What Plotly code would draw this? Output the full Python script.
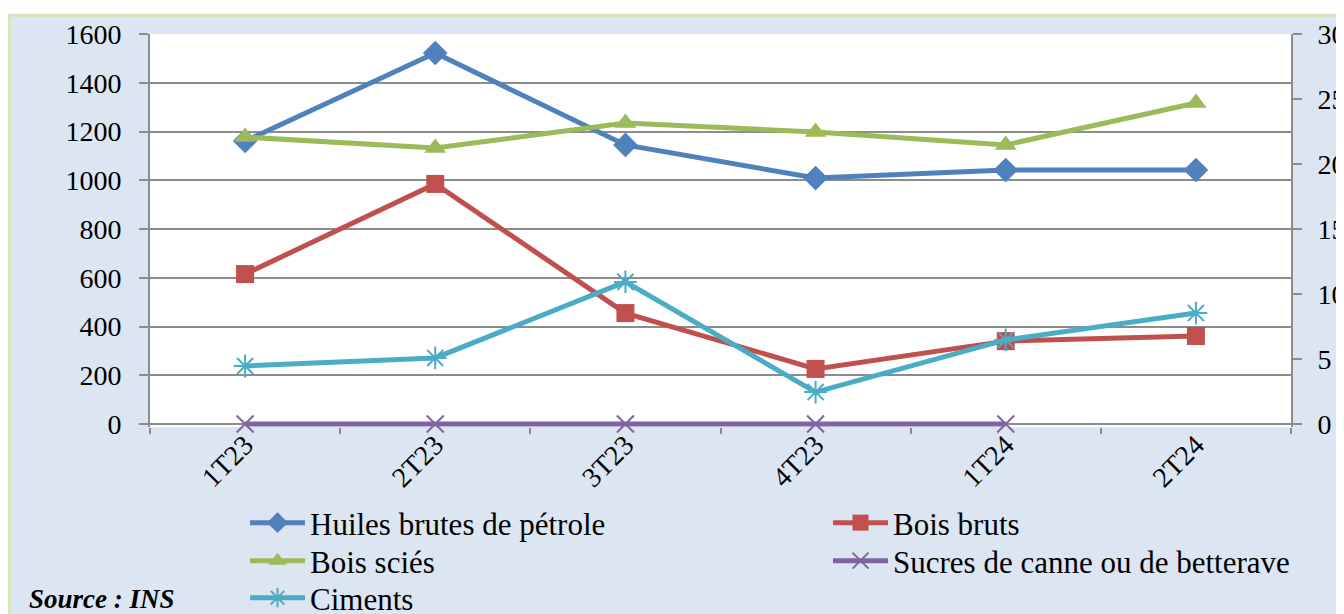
import plotly.graph_objects as go

categories = ["1T23", "2T23", "3T23", "4T23", "1T24", "2T24"]
huiles = [1161, 1522, 1145, 1009, 1042, 1042]
bois_bruts = [615, 985, 455, 226, 340, 361]
bois_scies = [1177, 1132, 1235, 1198, 1145, 1317]
sucres = [0, 0, 0, 0, 0, None]
ciments = [238, 271, 583, 131, 345, 455]

left_ticks = [0, 200, 400, 600, 800, 1000, 1200, 1400, 1600]
right_ticks = [0, 5, 10, 15, 20, 25, 30]
left_max, right_max = 1600, 30

# page has an 8px body margin; the figure starts at (8, 8) in the window
OFF = 8
W, H = 1344 - OFF, 614 - OFF
TOP_PX, ZERO_PX, BOTTOM_PX, RIGHT_PX = 34, 424, 427, 1291
L, T = 150 - OFF, TOP_PX - OFF
R = W - (RIGHT_PX - OFF)
B = H - (BOTTOM_PX - OFF)
PW, PH = W - L - R, H - T - B

# small pad below zero so the thick line lying on 0 is not clipped
pad_frac = (BOTTOM_PX - ZERO_PX) / (ZERO_PX - TOP_PX)
left_range = [-left_max * pad_frac, left_max]
right_range = [-right_max * pad_frac, right_max]

def px(x):  # window pixel -> paper
    return (x - OFF - L) / PW

def py(y):
    return (H - B - (y - OFF)) / PH

FONT = "Liberation Serif"
BG = "#dce6f2"
GRID = "#8c8c8c"

# legend slot positions (window px): left x of legend box, centre y of entry
legend_pos = {
    "legend": (245, 523),
    "legend2": (828, 523),
    "legend3": (245, 561),
    "legend4": (828, 561),
    "legend5": (245, 598),
}

series = [
    ("Huiles brutes de pétrole", huiles, "#4f81bd", dict(symbol="diamond", size=19), "legend", "y"),
    ("Bois bruts", bois_bruts, "#c0504d", dict(symbol="square", size=18), "legend2", "y"),
    ("Bois sciés", bois_scies, "#9bbb59", dict(symbol="triangle-up", size=19), "legend3", "y"),
    ("Sucres de canne ou de betterave", sucres, "#8064a2",
     dict(symbol="x-thin-open", size=17, line=dict(width=2, color="#8064a2")), "legend4", "y2"),
    ("Ciments", ciments, "#4bacc6",
     dict(symbol="asterisk-open", size=19, line=dict(width=2, color="#4bacc6")), "legend5", "y"),
]

fig = go.Figure()
for name, vals, color, marker, leg, yax in series:
    fig.add_trace(go.Scatter(
        x=categories, y=vals, name=name, mode="lines+markers",
        line=dict(color=color, width=5),
        marker=dict(color=color, **marker),
        legend=leg, yaxis=yax, cliponaxis=False,
    ))

axis_common = dict(
    linecolor=GRID, linewidth=2,
    ticks="outside", tickcolor=GRID, tickwidth=2, ticklen=9,
    tickfont=dict(family=FONT, size=28, color="black"),
    zeroline=False, automargin=False, layer="below traces",
)

legends = {}
for key, (lx, ly) in legend_pos.items():
    legends[key] = dict(
        xref="container", yref="container", x=(lx - OFF) / W, y=1 - (ly - OFF) / H,
        xanchor="left", yanchor="middle", bgcolor="rgba(0,0,0,0)",
        itemwidth=55, tracegroupgap=0,
        font=dict(family=FONT, size=31, color="black"),
    )

fig.update_layout(
    width=W, height=H,
    margin=dict(l=L, r=R, t=T, b=B, autoexpand=False),
    paper_bgcolor=BG, plot_bgcolor="white",
    font=dict(family=FONT, size=27, color="black"),
    xaxis=dict(
        type="category", range=[-0.5, 5.5], tickangle=-45,
        showgrid=False, tickson="boundaries", showline=False,
        ticklabelstandoff=-5,
        **{**axis_common, "ticklen": 6},
    ),
    yaxis=dict(
        range=left_range, tickvals=left_ticks, showgrid=True, showline=True,
        gridcolor=GRID, gridwidth=2, ticklabelstandoff=12, **axis_common,
    ),
    yaxis2=dict(
        range=right_range, tickvals=right_ticks, overlaying="y", side="right",
        showgrid=False, showline=True, anchor="x", ticklabelstandoff=10, **axis_common,
    ),
    showlegend=True,
    **legends,
)

fig.add_annotation(
    text="<b><i>Source : INS</i></b>", xref="paper", yref="paper",
    x=px(27), y=py(599), xanchor="left", yanchor="middle", showarrow=False,
    font=dict(family=FONT, size=27, color="black"),
)

# outer frame: thin white strip at top, light green border
fig.add_shape(type="rect", xref="paper", yref="paper",
              x0=px(-20), x1=px(1400), y0=py(14), y1=py(-20),
              fillcolor="white", line=dict(width=0), layer="above")
fig.add_shape(type="rect", xref="paper", yref="paper",
              x0=px(9.5), x1=px(1400), y0=py(700), y1=py(15.5),
              fillcolor="rgba(0,0,0,0)", line=dict(width=3.5, color="#d7e4bd"), layer="above")

fig.write_html("out.html")
